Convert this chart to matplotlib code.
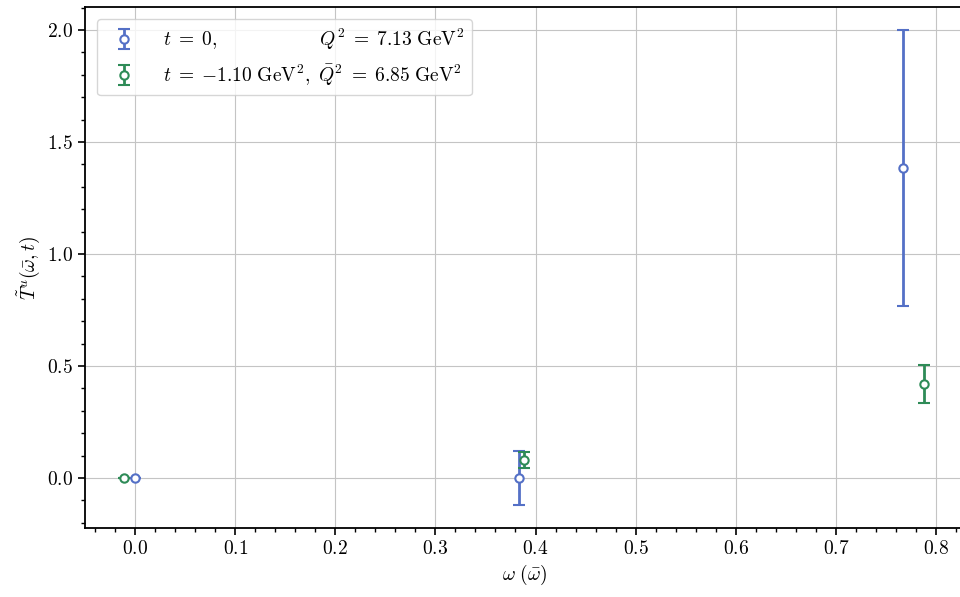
import numpy as np
import matplotlib
matplotlib.use('Agg')
import matplotlib.pyplot as plt
from matplotlib.ticker import MultipleLocator

plt.rcParams['font.family'] = 'serif'
plt.rcParams['font.serif'] = ['cmr10', 'DejaVu Serif']
plt.rcParams['mathtext.fontset'] = 'cm'
plt.rcParams['axes.formatter.use_mathtext'] = True
plt.rcParams['axes.unicode_minus'] = False

# t = 0 series
omega_0 = [0.0, 0.384, 0.767]
T_0 = [0.0, 0.0, 1.384]
err_0 = [0.0, 0.12, 0.617]

# t = -1.10 GeV^2 series
omega_1 = [-0.011, 0.389, 0.788]
T_1 = [0.0, 0.081, 0.42]
err_1 = [0.0, 0.036, 0.084]

label_0 = r'$t\;=\;0,\quad\quad\quad\quad\quad\;\;\; Q^2\;=\;7.13\ \mathrm{GeV}^2$'
label_1 = r'$t\;=\;{-1.10}\ \mathrm{GeV}^2,\ \bar{Q}^2\;=\;6.85\ \mathrm{GeV}^2$'

BLUE = '#5470c6'
GREEN = '#2e8b57'

fig = plt.figure(figsize=(9.6, 5.97), dpi=100)
ax = fig.add_axes([85 / 960, 69 / 597, 880 / 960, 521 / 597])

ax.errorbar(omega_0, T_0, yerr=err_0, fmt='o', color=BLUE, mfc='white', mec=BLUE,
            ms=6, mew=1.5, elinewidth=2, capsize=4, capthick=1.5, label=label_0, zorder=3)
ax.errorbar(omega_1, T_1, yerr=err_1, fmt='o', color=GREEN, mfc='white', mec=GREEN,
            ms=6, mew=1.5, elinewidth=2, capsize=4, capthick=1.5, label=label_1, zorder=3)

ax.set_xlim(-0.05, 0.829)
ax.set_ylim(-0.223, 2.103)
ax.xaxis.set_major_locator(MultipleLocator(0.1))
ax.xaxis.set_minor_locator(MultipleLocator(0.02))
ax.yaxis.set_major_locator(MultipleLocator(0.5))
ax.yaxis.set_minor_locator(MultipleLocator(0.1))
ax.tick_params(which='major', length=5, width=1.2, labelsize=14)
ax.tick_params(which='minor', length=3, width=1)
ax.grid(True, which='major', color='#c4c4c4', lw=0.8)
ax.spines['right'].set_visible(False)
for s in ['left', 'bottom', 'top']:
    ax.spines[s].set_linewidth(1.3)

ax.set_xlabel(r'$\omega\ (\bar{\omega})$', fontsize=14)
ax.set_ylabel(r'$\tilde{T}^{u}(\bar{\omega},t)$', fontsize=14)

ax.legend(loc='upper left', fontsize=14, framealpha=0.8, borderaxespad=0.6,
          handletextpad=1.0, labelspacing=0.55)

fig.savefig('out.png', dpi=100)
